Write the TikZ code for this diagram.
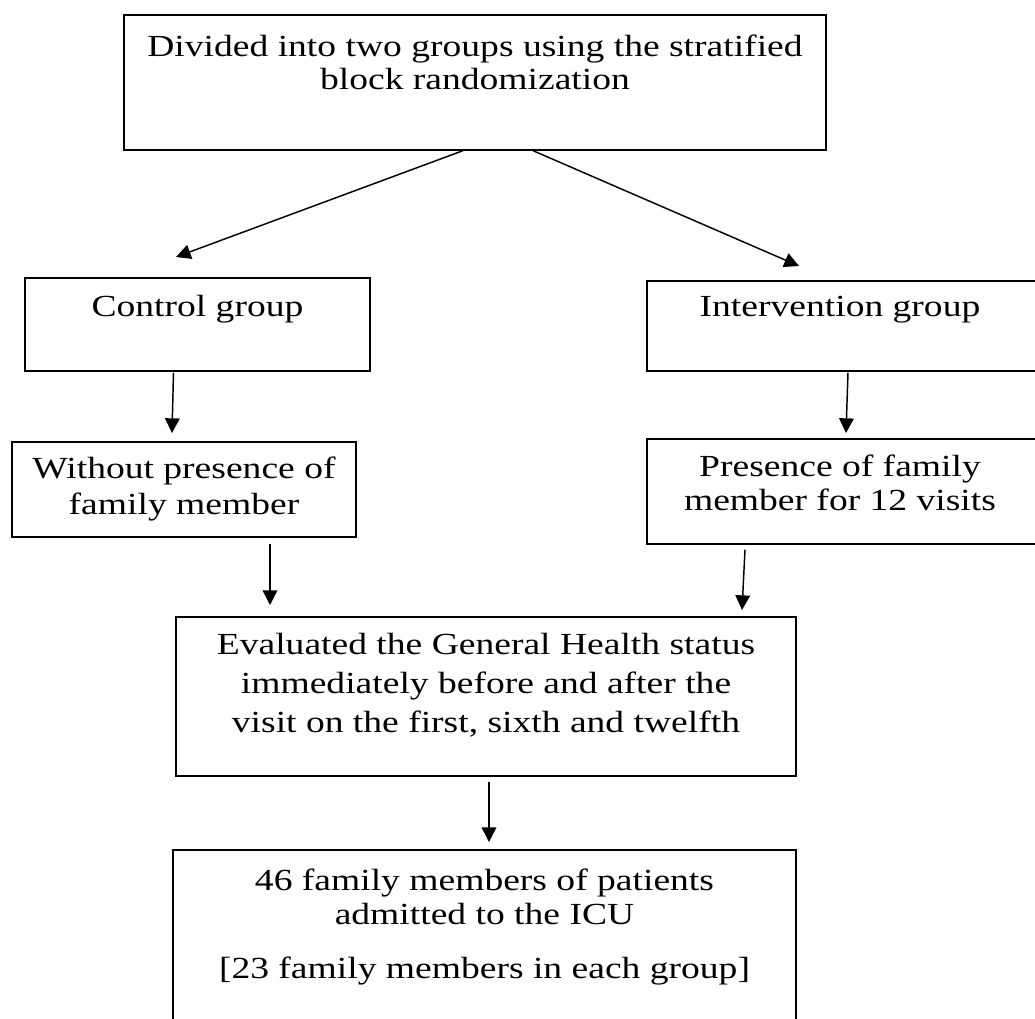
\documentclass[tikz,border=0pt]{standalone}
\usepackage{fontspec}
\setmainfont[FakeStretch=1.225]{Liberation Serif}
\usetikzlibrary{arrows.meta, calc}

\begin{document}
\begin{tikzpicture}
	[x=0.75pt, y=-0.75pt,
	 box/.style 2 args={draw, line width=1pt, inner sep=0pt, minimum width=#1, minimum height=#2},
	 txt/.style={anchor=north, align=center, inner sep=0pt, font=\fontsize{23}{26}\selectfont},
	 arr/.style={line width=1.1pt, -{Triangle[width=11pt,length=11pt]}}]

	\useasboundingbox (0,0) rectangle (1035,1018);

	%boxes
	\node[box={526.5pt}{101.25pt}] (divide) at (475,82.5) {};
	\node[box={258.75pt}{69.75pt}] (control) at (197.5,324.5) {};
	\node[box={292.5pt}{67.5pt}] (interv) at (842,326) {};
	\node[box={258pt}{71.25pt}] (without) at (184,489.5) {};
	\node[box={292.5pt}{78.75pt}] (presence) at (842,491.5) {};
	\node[box={465pt}{119.25pt}] (evaluate) at (486,696.5) {};
	\node[box={467.25pt}{135pt}] (members) at (484.5,940) {};

	%texts
	\node[txt, font=\fontsize{23}{24.75}\selectfont] (dividetxt) at ($(divide.north)+(0,20)$)
		{Divided into two groups using the stratified\\block randomization};
	\node[txt] (controltxt) at ($(control.north)+(0,18)$) {Control group};
	\node[txt] (intervtxt) at ($(interv.north)+(-2,16)$) {Intervention group};
	\node[txt, font=\fontsize{23}{27}\selectfont] (withouttxt) at ($(without.north)+(0,15)$)
		{Without presence of\\family member};
	\node[txt] (presencetxt) at ($(presence.north)+(-2,16)$)
		{Presence of family\\member for 12 visits};
	\node[txt, font=\fontsize{23}{29}\selectfont] (evaluatetxt) at ($(evaluate.north)+(0,17)$)
		{Evaluated the General Health status\\immediately before and after the\\visit on the first, sixth and twelfth};
	\node[txt, font=\fontsize{23}{25.5}\selectfont] (memberstxt) at ($(members.north)+(0,19)$)
		{46 family members of patients\\admitted to the ICU\\[15pt][23 family members in each group]};

	%arrow ends
	\coordinate (controlin) at (176,257);
	\coordinate (intervin) at (799,266);
	\coordinate (withoutin) at (172,433);
	\coordinate (presencein) at (846,433);
	\coordinate (evalleft) at (270,605);
	\coordinate (evalright) at (742,610);
	\coordinate (membersin) at (489,842);

	\draw[arr] ($(divide.south)+(-12,0)$) -- (controlin);
	\draw[arr] ($(divide.south)+(58,0)$) -- (intervin);
	\draw[arr] ($(control.south)+(-24,1)$) -- (withoutin);
	\draw[arr] ($(interv.south)+(6,1)$) -- (presencein);
	\draw[arr] ($(without.south)+(86,6)$) -- (evalleft);
	\draw[arr] ($(presence.south)+(-97,5)$) -- (evalright);
	\draw[arr] ($(evaluate.south)+(3,5)$) -- (membersin);

\end{tikzpicture}
\end{document}
